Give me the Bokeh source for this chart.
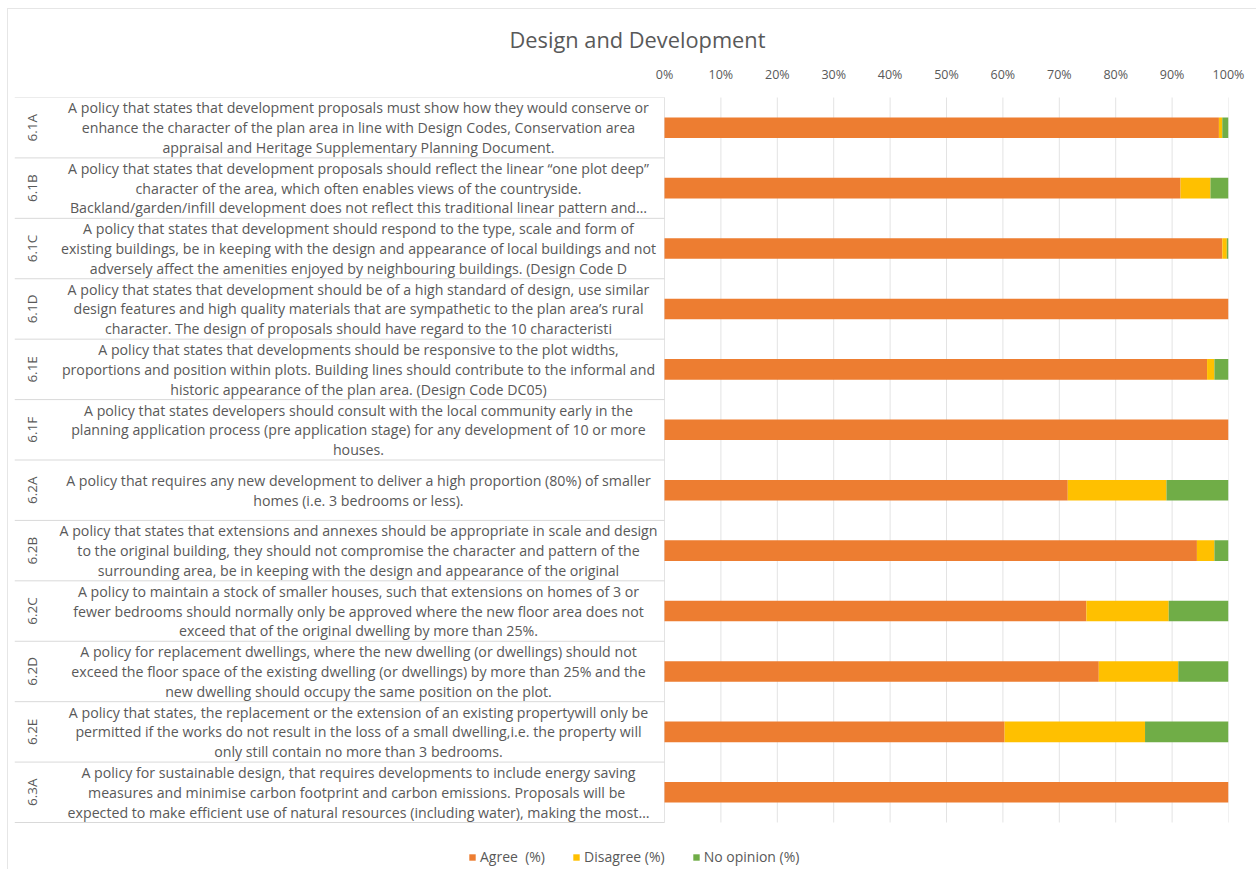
import numpy as np
from bokeh.plotting import figure
from bokeh.models import (ColumnDataSource, Range1d, FixedTicker, PrintfTickFormatter,
                          LinearAxis, Legend, LegendItem)
from bokeh.core.properties import value
from bokeh.embed import file_html
from bokeh.resources import INLINE

title = "Design and Development"
codes = ["6.1A", "6.1B", "6.1C", "6.1D", "6.1E", "6.1F",
         "6.2A", "6.2B", "6.2C", "6.2D", "6.2E", "6.3A"]
descriptions = [
    "A policy that states that development proposals must show how they would conserve or\nenhance the character of the plan area in line with Design Codes, Conservation area\nappraisal and Heritage Supplementary Planning Document.",
    "A policy that states that development proposals should reflect the linear \u201cone plot deep\u201d\ncharacter of the area, which often enables views of the countryside.\nBackland/garden/infill development does not reflect this traditional linear pattern and\u2026",
    "A policy that states that development should respond to the type, scale and form of\nexisting buildings, be in keeping with the design and appearance of local buildings and not\nadversely affect the amenities enjoyed by neighbouring buildings. (Design Code D",
    "A policy that states that development should be of a high standard of design, use similar\ndesign features and high quality materials that are sympathetic to the plan area\u2019s rural\ncharacter. The design of proposals should have regard to the 10 characteristi",
    "A policy that states that developments should be responsive to the plot widths,\nproportions and position within plots. Building lines should contribute to the informal and\nhistoric appearance of the plan area. (Design Code DC05)",
    "A policy that states developers should consult with the local community early in the\nplanning application process (pre application stage) for any development of 10 or more\nhouses.",
    "A policy that requires any new development to deliver a high proportion (80%) of smaller\nhomes (i.e. 3 bedrooms or less).",
    "A policy that states that extensions and annexes should be appropriate in scale and design\nto the original building, they should not compromise the character and pattern of the\nsurrounding area, be in keeping with the design and appearance of the original",
    "A policy to maintain a stock of smaller houses, such that extensions on homes of 3 or\nfewer bedrooms should normally only be approved where the new floor area does not\nexceed that of the original dwelling by more than 25%.",
    "A policy for replacement dwellings, where the new dwelling (or dwellings) should not\nexceed the floor space of the existing dwelling (or dwellings) by more than 25% and the\nnew dwelling should occupy the same position on the plot.",
    "A policy that states, the replacement or the extension of an existing propertywill only be\npermitted if the works do not result in the loss of a small dwelling,i.e. the property will\nonly still contain no more than 3 bedrooms.",
    "A policy for sustainable design, that requires developments to include energy saving\nmeasures and minimise carbon footprint and carbon emissions.  Proposals will be\nexpected to make efficient use of natural resources (including water), making the most\u2026",
]
agree = [98.3, 91.5, 98.9, 100.0, 96.2, 100.0, 71.5, 94.4, 74.8, 77.0, 60.3, 100.0]
disagree = [0.6, 5.3, 0.8, 0.0, 1.3, 0.0, 17.5, 3.1, 14.6, 14.1, 24.9, 0.0]
no_opinion = [1.1, 3.2, 0.3, 0.0, 2.5, 0.0, 11.0, 2.5, 10.6, 8.9, 14.8, 0.0]
series_names = ["Agree  (%)", "Disagree (%)", "No opinion (%)"]
colors = ["#ED7D31", "#FFC000", "#70AD47"]
tick_values = [0, 10, 20, 30, 40, 50, 60, 70, 80, 90, 100]

TEXT = "#595959"
FONT = "Open Sans"

# page geometry (pixels)
OX, OY = 7, 8                       # chart area origin on the page
W, H = 1256 - OX, 869 - OY
FRAME_L, ZERO_PX, FULL_PX = 13 - OX, 663 - OX, 1227 - OX
ROWS_T, ROWS_B = 96 - OY, 821 - OY  # table / bar area
FRAME_T, FRAME_B = ROWS_T, 867 - OY # frame extends down to hold the legend
px_per = (FULL_PX - ZERO_PX) / 100.0
x_start = -(ZERO_PX - FRAME_L) / px_per
n = len(codes)
row_px = (ROWS_B - ROWS_T) / n
y_bottom = n + (FRAME_B - ROWS_B) / row_px

ys = list(np.arange(n) + 0.5)
src = ColumnDataSource(dict(y=ys, code=codes, desc=descriptions,
                            agree=agree, disagree=disagree, noop=no_opinion))

p = figure(width=W, height=H, output_backend="svg", toolbar_location=None,
           x_range=Range1d(x_start, 100), y_range=Range1d(y_bottom, 0),
           x_axis_location=None, y_axis_location=None,
           min_border_left=FRAME_L, min_border_right=W - FULL_PX,
           min_border_top=FRAME_T, min_border_bottom=H - FRAME_B,
           title=title, margin=(OY, 0, 0, OX),
           styles={"border-top": "1px solid #E6E6E6", "border-left": "1px solid #E6E6E6"})
p.outline_line_color = None
p.background_fill_color = "white"
p.border_fill_color = "white"
p.title.text_font = FONT
p.title.text_font_size = "21.8px"
p.title.text_font_style = "normal"
p.title.text_color = TEXT
p.title.align = "left"
p.title.offset = 508 - 13
p.title.standoff = 18

ax = LinearAxis(ticker=FixedTicker(ticks=tick_values),
                formatter=PrintfTickFormatter(format="%d%%"))
ax.axis_line_color = None
ax.major_tick_line_color = None
ax.minor_tick_line_color = None
ax.major_tick_out = 0
ax.major_tick_in = 0
ax.minor_tick_out = 0
ax.minor_tick_in = 0
ax.major_label_text_font = FONT
ax.major_label_text_font_size = "12.5px"
ax.major_label_text_color = TEXT
ax.major_label_standoff = 15
p.add_layout(ax, "above")

p.xgrid.grid_line_color = None
p.ygrid.grid_line_color = None

# vertical gridlines over the bar area only
p.segment(x0=tick_values, x1=tick_values, y0=[-0.05] * len(tick_values), y1=[n] * len(tick_values),
          line_color="#E3E3E3", line_width=1)

# table lines in label area
bounds = list(np.arange(n + 1))
p.segment(x0=[x_start] * (n + 1), x1=[0] * (n + 1), y0=bounds, y1=bounds,
          line_color="#D9D9D9", line_width=1)

renderers = p.hbar_stack(["agree", "disagree", "noop"], y="y", height=0.34,
                         color=colors, source=src, line_color=None)

code_x = -(ZERO_PX - (30 - OX)) / px_per
desc_x = -(ZERO_PX - (357 - OX)) / px_per
p.text(x=code_x, y="y", text="code", source=src, angle=np.pi / 2,
       text_align="center", text_baseline="middle", text_font=value(FONT),
       text_font_size="13.5px", text_color=TEXT)
p.text(x=desc_x, y="y", text="desc", source=src,
       text_align="center", text_baseline="middle", text_font=value(FONT),
       text_font_size="14.2px", text_color=TEXT, text_line_height=1.04)

legend = Legend(items=[LegendItem(label=s, renderers=[r]) for s, r in zip(series_names, renderers)],
                orientation="horizontal", location=(470 - 13 - 3, 2),
                glyph_width=8, glyph_height=8, label_text_font=FONT,
                label_text_font_size="14px", label_text_color=TEXT,
                border_line_color=None, background_fill_alpha=0,
                spacing=27, label_standoff=4, padding=2, margin=0)
p.add_layout(legend)

open("out.html", "w").write(file_html(p, INLINE))
